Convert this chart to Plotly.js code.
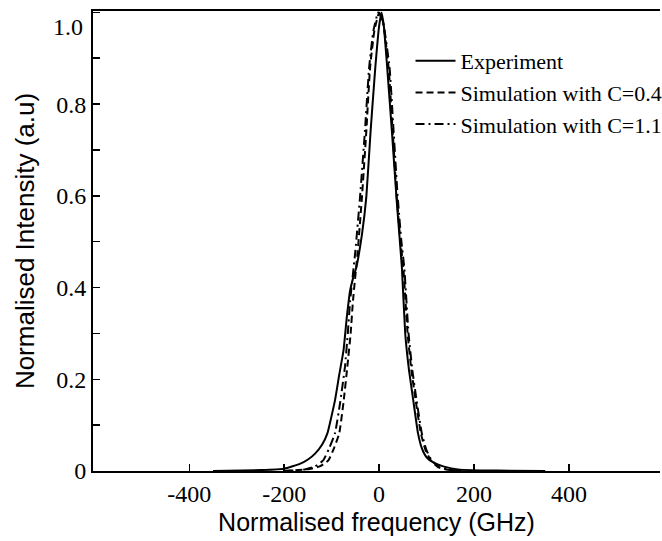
<!DOCTYPE html>
<html>
<head>
<meta charset="utf-8">
<script src="https://cdn.plot.ly/plotly-3.0.1.min.js"></script>
<style>html,body{margin:0;padding:0;background:#fff;}#chart{width:662px;height:541px;}</style>
</head>
<body>
<div id="chart"></div>
<script>
// Experiment
const expX = [-350,-250,-200,-166,-150,-135,-120,-109,-93,-84,-75,-68,-61,-55,-48,-36,-27,-18,-8,0,5,10,17,27,37,48,55,63,72,82,90,100,115,135,170,250,350];
const expY = [0,0.002,0.005,0.016,0.025,0.038,0.058,0.082,0.154,0.21,0.263,0.336,0.394,0.42,0.444,0.517,0.597,0.74,0.88,0.97,1.0,0.97,0.88,0.74,0.59,0.444,0.30,0.22,0.154,0.082,0.05,0.03,0.018,0.01,0.003,0.001,0];
// Simulation C=0.4
const simAX = [-200,-150,-125,-107,-95,-84,-75,-67,-60,-55,-45,-36,-27,-19,-10,0,8,20,28,37,45,51,60,68,77,88,98,109,125,150,200];
const simAY = [0,0.004,0.01,0.023,0.05,0.082,0.15,0.227,0.30,0.372,0.48,0.6,0.74,0.88,0.96,1.0,0.98,0.88,0.75,0.6,0.5,0.444,0.3,0.22,0.154,0.082,0.045,0.023,0.008,0.002,0];
// Simulation C=1.1
const simBX = [-200,-160,-135,-118,-105,-93,-82,-72,-66,-61,-50,-40,-30,-21,-12,-2,8,22,30,39,47,53,62,70,79,90,100,111,128,155,200];
const simBY = [0,0.003,0.01,0.023,0.05,0.082,0.15,0.227,0.30,0.372,0.48,0.6,0.74,0.88,0.96,1.0,0.98,0.88,0.75,0.6,0.5,0.444,0.3,0.22,0.154,0.082,0.045,0.023,0.008,0.002,0];

const seriesNames = ["Experiment","Simulation with C=0.4","Simulation with C=1.1"];
const xTickVals = [-400,-200,0,200,400];
const xTickText = ["-400","-200","0","200","400"];
const yTickVals = [0,0.1,0.2,0.3,0.4,0.5,0.6,0.7,0.8,0.9,1.0];
const yTickText = ["0","","0.2","","0.4","","0.6","","0.8","","1.0"];

const serif = "Liberation Serif, Times New Roman, serif";
const sans = "Liberation Sans, Arial, sans-serif";

const traces = [
  {x: expX, y: expY, name: seriesNames[0], mode: "lines", legendgroup: "a",
   line: {color: "#000", width: 2, shape: "spline", smoothing: 0.4}},
  {x: simAX, y: simAY, name: seriesNames[1], mode: "lines", legendgroup: "b",
   line: {color: "#000", width: 2, dash: "7px,4px", shape: "spline", smoothing: 0.4}},
  {x: simBX, y: simBY, name: seriesNames[2], mode: "lines", legendgroup: "c",
   line: {color: "#000", width: 2, dash: "9px,4px,2px,4px", shape: "spline", smoothing: 0.4}}
];

const yLabelText = yTickText.slice();
const topLabel = yLabelText[yLabelText.length-1];
yLabelText[yLabelText.length-1] = "";

const layout = {
  width: 662, height: 541,
  margin: {l: 93, r: 2, t: 11, b: 70, autoexpand: false},
  paper_bgcolor: "#fff", plot_bgcolor: "#fff",
  showlegend: true,
  legend: {x: 0.56, y: 0.937, xanchor: "left", yanchor: "top",
    font: {family: serif, size: 22, color: "#000"}, bgcolor: "rgba(0,0,0,0)",
    tracegroupgap: 0, itemwidth: 40},
  xaxis: {
    range: [-603, 592], tickmode: "array", tickvals: xTickVals, ticktext: xTickText,
    ticks: "inside", ticklen: 7, tickwidth: 1.5, tickcolor: "#000",
    showline: true, linecolor: "#000", linewidth: 2, mirror: true,
    showgrid: false, zeroline: false,
    tickfont: {family: serif, size: 24, color: "#000"},
    title: {text: "Normalised frequency (GHz)", font: {family: sans, size: 25, color: "#000"}, standoff: 8}
  },
  yaxis: {
    range: [0, 1.003], tickmode: "array", tickvals: yTickVals, ticktext: yLabelText,
    ticks: "inside", ticklen: 7, tickwidth: 1.5, tickcolor: "#000",
    showline: true, linecolor: "#000", linewidth: 2,
    showgrid: false, zeroline: false,
    tickfont: {family: serif, size: 24, color: "#000"},
    title: {text: "Normalised Intensity (a.u)", font: {family: sans, size: 26, color: "#000"}, standoff: 14}
  },
  annotations: [
    {x: 0, xref: "paper", xanchor: "right", xshift: -8, y: yTickVals[yTickVals.length-1], yref: "y",
     yshift: -15, text: topLabel, showarrow: false, font: {family: serif, size: 24, color: "#000"}}
  ]
};

Plotly.newPlot("chart", traces, layout, {displayModeBar: false, staticPlot: true});
</script>
</body>
</html>
